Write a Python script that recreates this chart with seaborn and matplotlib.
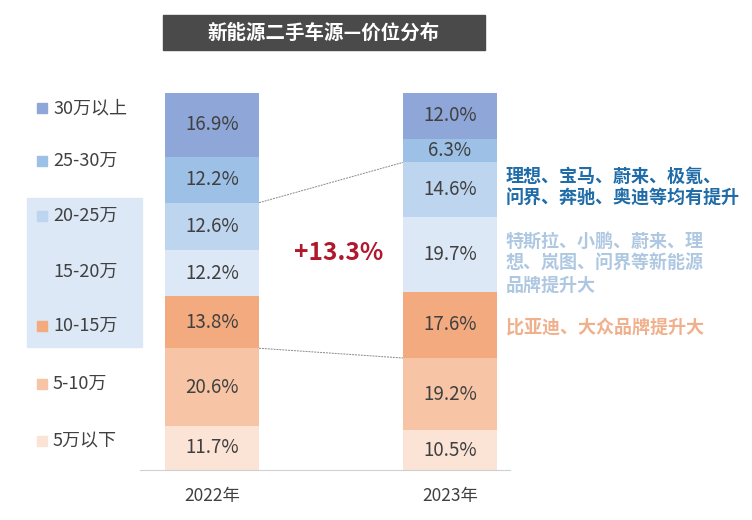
import matplotlib
matplotlib.use("Agg")
import matplotlib.pyplot as plt
import seaborn as sns
import pandas as pd
from matplotlib.patches import Rectangle

sns.set_style("white")
plt.rcParams["font.family"] = "sans-serif"
plt.rcParams["font.sans-serif"] = ["Noto Sans CJK SC", "DejaVu Sans"]

years = ["2022年", "2023年"]
bands = ["5万以下", "5-10万", "10-15万", "15-20万", "20-25万", "25-30万", "30万以上"]
share_2022 = [11.7, 20.6, 13.8, 12.2, 12.6, 12.2, 16.9]
share_2023 = [10.5, 19.2, 17.6, 19.7, 14.6, 6.3, 12.0]
colors = ["#FBE3D6", "#F7C5A6", "#F3AA7E", "#DCE8F6", "#BDD5EF", "#9DC0E6", "#8EA6D8"]
increase_label = "+13.3%"

W, H = 752, 520
fig = plt.figure(figsize=(W / 100, H / 100), dpi=100)
ax = fig.add_axes([140 / W, 50 / H, 370 / W, 377 / H])

df = pd.DataFrame({"year": years * len(bands),
                   "band": [b for b in bands for _ in years],
                   "share": [v for pair in zip(share_2022, share_2023) for v in pair]})

bottoms = [0.0, 0.0]
for band, col in zip(bands, colors):
    sub = df[df["band"] == band]
    vals = sub["share"].tolist()
    ax.bar([0, 1], vals, bottom=bottoms, width=0.395, color=col, edgecolor="none")
    for i, v in enumerate(vals):
        ax.text(i, bottoms[i] + v / 2, f"{v:.1f}%", ha="center", va="center",
                fontsize=13.5, color="#404040")
    bottoms = [b + v for b, v in zip(bottoms, vals)]

ax.set_xlim(-0.3025, 1.252)
ax.set_ylim(0, 100)
ax.set_xticks([0, 1])
ax.set_xticklabels(years, fontsize=12.5, color="#404040")
ax.set_yticks([])
sns.despine(ax=ax, left=True)
ax.spines["bottom"].set_color("#d0d0d0")
ax.tick_params(axis="x", length=0, pad=12)

# connectors around the 10-25 band
low = [sum(s[:2]) for s in (share_2022, share_2023)]
high = [sum(s[:5]) for s in (share_2022, share_2023)]
hw = 0.395 / 2
ax.plot([hw, 1 - hw], high, color="#888888", lw=0.7, ls=(0, (2, 1)))
ax.plot([hw, 1 - hw], low, color="#888888", lw=0.7, ls=(0, (2, 1)))
ax.text(0.53, 57.5, increase_label, ha="center", va="center", fontsize=17.5,
        fontweight="bold", color="#B0182B")

# notes
fig.text(506 / W, 1 - 187 / H, "理想、宝马、蔚来、极氪、\n问界、奔驰、奥迪等均有提升",
         fontsize=13, fontweight="bold", color="#1F6CA8", va="center", linespacing=1.2)
fig.text(506 / W, 1 - 263 / H, "特斯拉、小鹏、蔚来、理\n想、岚图、问界等新能源\n品牌提升大",
         fontsize=13, fontweight="bold", color="#AFC8E2", va="center", linespacing=1.2)
fig.text(506 / W, 1 - 327 / H, "比亚迪、大众品牌提升大",
         fontsize=13, fontweight="bold", color="#F0B08C", va="center")

# legend
fig.patches.append(Rectangle((27 / W, 1 - 347 / H), 115 / W, 149 / H,
                             transform=fig.transFigure, color="#DCE8F6", zorder=0))
legend_y = [108, 161, 216, 272, 326, 384, 441]
for band, col, y in zip(bands[::-1], colors[::-1], legend_y):
    if band != "15-20万":
        fig.patches.append(Rectangle((37 / W, 1 - (y + 5) / H), 10 / W, 10 / H,
                                     transform=fig.transFigure, color=col))
    fig.text(53 / W, 1 - y / H, band, fontsize=13, color="#404040", va="center")

# title bar
fig.patches.append(Rectangle((163 / W, 1 - 50 / H), 322 / W, 35 / H,
                             transform=fig.transFigure, color="#4A4A4A"))
fig.text(324 / W, 1 - 33 / H, "新能源二手车源—价位分布", fontsize=14, fontweight="bold",
         color="white", ha="center", va="center")

fig.savefig("out.png", dpi=100)
